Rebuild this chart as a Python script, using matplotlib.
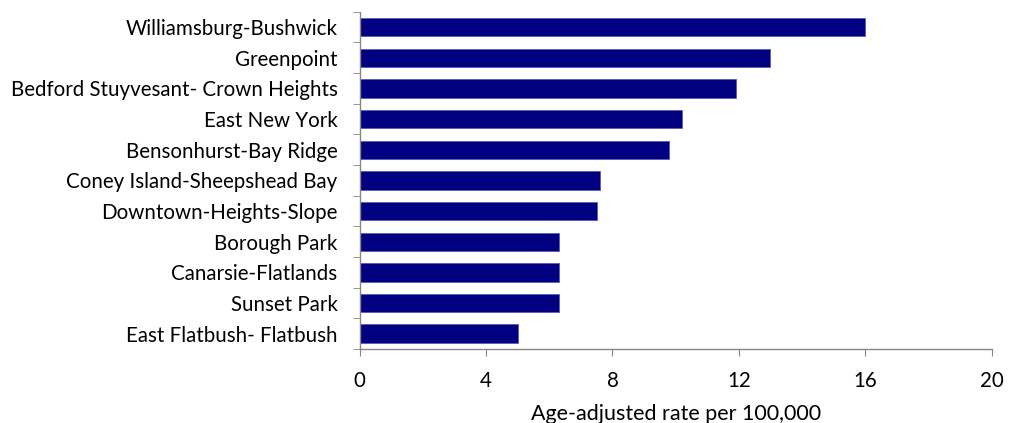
import matplotlib.pyplot as plt
import numpy as np

neighborhoods = ['Williamsburg-Bushwick', 'Greenpoint', 'Bedford Stuyvesant- Crown Heights',
                 'East New York', 'Bensonhurst-Bay Ridge', 'Coney Island-Sheepshead Bay',
                 'Downtown-Heights-Slope', 'Borough Park', 'Canarsie-Flatlands',
                 'Sunset Park', 'East Flatbush- Flatbush']
rates = [16.0, 13.0, 11.9, 10.2, 9.8, 7.6, 7.5, 6.3, 6.3, 6.3, 5.0]
x_ticks = [0, 4, 8, 12, 16, 20]

plt.rcParams['font.family'] = ['Lato', 'DejaVu Sans']

fig = plt.figure(figsize=(10.13, 4.23), dpi=100)
ax = fig.add_axes([0.355, 0.175, 0.624, 0.797])

y = np.arange(len(neighborhoods))
ax.barh(y, rates, height=0.6, color='#000080', edgecolor='#5a5ab8', linewidth=0.6)
ax.set_ylim(len(neighborhoods) - 0.5, -0.5)
ax.set_xlim(0, 20)

ax.set_yticks(y)
ax.set_yticklabels(neighborhoods, fontsize=14.8)
ax.set_yticks(np.arange(-0.5, len(neighborhoods)), minor=True)
ax.tick_params(axis='y', which='major', length=0, pad=16)
ax.tick_params(axis='y', which='minor', length=5, color='#868686')

ax.set_xticks(x_ticks)
ax.set_xticklabels([str(t) for t in x_ticks], fontsize=14.8)
ax.tick_params(axis='x', length=5, color='#868686', pad=11)
ax.set_xlabel('Age-adjusted rate per 100,000', fontsize=15.5, labelpad=9)

for s in ['top', 'right']:
    ax.spines[s].set_visible(False)
for s in ['left', 'bottom']:
    ax.spines[s].set_color('#868686')
    ax.spines[s].set_linewidth(1)

fig.savefig('out.png', dpi=100)
